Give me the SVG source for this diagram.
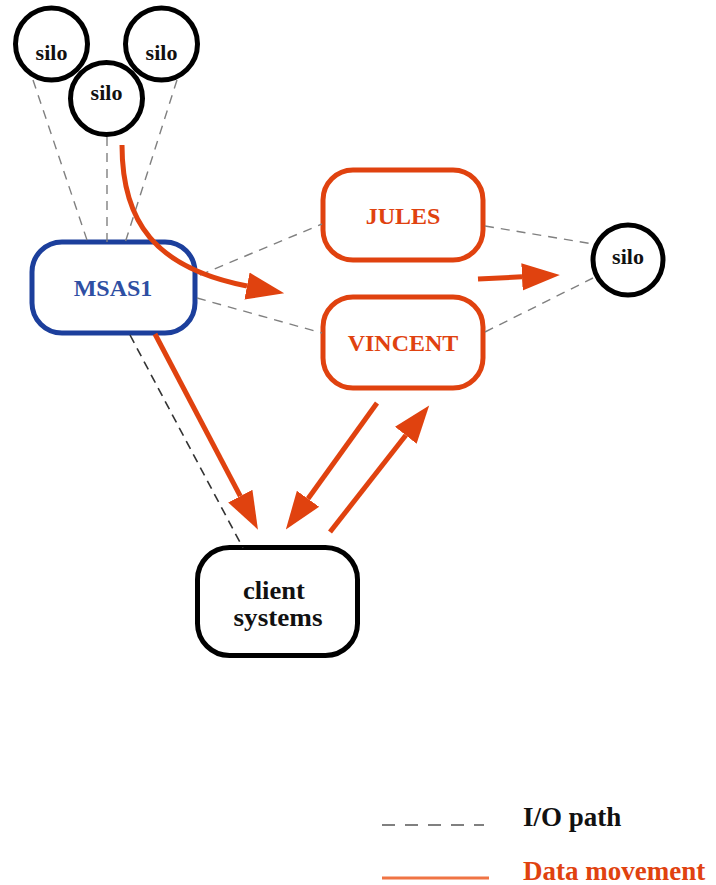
<svg xmlns="http://www.w3.org/2000/svg" width="716" height="885" viewBox="0 0 716 885">
  <style>
    .label { font-family: "Liberation Serif", "Times New Roman", serif; font-weight: bold; text-anchor: middle; }
    .silo circle { fill: #ffffff; stroke: #000000; stroke-width: 5; }
    .silo text { font-size: 22px; fill: #111111; }
    .io { fill: none; stroke: #808080; stroke-width: 1.4; stroke-dasharray: 9 7; }
    .io-dark { fill: none; stroke: #333333; stroke-width: 1.6; stroke-dasharray: 9 6; }
    .data { fill: none; stroke: #e0420f; stroke-width: 5; marker-end: url(#head); }
  </style>
  <defs>
    <marker id="head" markerUnits="userSpaceOnUse" markerWidth="40" markerHeight="30" viewBox="0 -14 38 28" refX="0" refY="0" orient="auto">
      <path d="M0,-13 L36,0 L0,13 z" fill="#e0420f"/>
    </marker>
  </defs>

  <rect width="716" height="885" fill="#ffffff"/>

  <g id="silo-left" class="silo">
    <circle cx="51.5" cy="44" r="36"/>
    <text class="label" x="51.5" y="60">silo</text>
  </g>
  <g id="silo-right" class="silo">
    <circle cx="161.5" cy="44" r="36"/>
    <text class="label" x="161.5" y="60">silo</text>
  </g>
  <g id="silo-middle" class="silo">
    <circle cx="106.5" cy="98.5" r="36"/>
    <text class="label" x="106.5" y="100">silo</text>
  </g>

  <g id="msas1">
    <rect x="32" y="242" width="163" height="91" rx="30" fill="#ffffff" stroke="#1c3f9c" stroke-width="5"/>
    <text class="label" x="113" y="296" font-size="24" fill="#2e4fa3">MSAS1</text>
  </g>

  <g id="jules">
    <rect x="323" y="170" width="160" height="90" rx="30" fill="#ffffff" stroke="#e0420f" stroke-width="5"/>
    <text class="label" x="403" y="224" font-size="24" fill="#e0420f">JULES</text>
  </g>

  <g id="vincent">
    <rect x="323" y="297" width="160" height="91" rx="30" fill="#ffffff" stroke="#e0420f" stroke-width="5"/>
    <text class="label" x="403" y="351" font-size="24" fill="#e0420f">VINCENT</text>
  </g>

  <g id="silo-far" class="silo">
    <circle cx="628" cy="260" r="35"/>
    <text class="label" x="628" y="264">silo</text>
  </g>

  <g id="client-systems">
    <rect x="197.5" y="547.5" width="160" height="108" rx="32" fill="#ffffff" stroke="#000000" stroke-width="5"/>
    <text class="label" font-size="25" fill="#111111">
      <tspan x="277" y="599" textLength="62" lengthAdjust="spacingAndGlyphs">client</tspan>
      <tspan x="278" y="626" textLength="89" lengthAdjust="spacingAndGlyphs">systems</tspan>
    </text>
  </g>

  <!-- I/O paths and data movement, drawn over the nodes -->
  <g id="connectors">
    <line class="io" x1="33" y1="80" x2="88" y2="243"/>
    <line class="io" x1="107" y1="137" x2="107" y2="243"/>
    <line class="io" x1="177" y1="80" x2="125" y2="243"/>
    <line class="io" x1="200" y1="275" x2="322" y2="224"/>
    <line class="io" x1="197" y1="298" x2="322" y2="333"/>
    <line class="io" x1="485" y1="226" x2="593" y2="244"/>
    <line class="io" x1="485" y1="332" x2="593" y2="278"/>
    <line class="io-dark" x1="130" y1="335" x2="243" y2="548"/>

    <path class="data" d="M122,145 C122,222 155,268 247,286"/>
    <line class="data" x1="478" y1="279" x2="522" y2="276.8"/>
    <line class="data" x1="155" y1="334" x2="240.3" y2="496.1"/>
    <line class="data" x1="377" y1="403" x2="308" y2="498.8"/>
    <line class="data" x1="330" y1="532" x2="405.8" y2="435.3"/>
  </g>

  <!-- legend -->
  <g id="legend">
    <line x1="382" y1="825" x2="484" y2="825" stroke="#808080" stroke-width="2" stroke-dasharray="13 10"/>
    <text class="label" x="523" y="826" font-size="27" fill="#111111" style="text-anchor:start">I/O path</text>
    <line x1="382" y1="878" x2="489" y2="878" stroke="#f07444" stroke-width="3"/>
    <text class="label" x="523" y="880" font-size="27" fill="#e0420f" style="text-anchor:start">Data movement</text>
  </g>
</svg>
